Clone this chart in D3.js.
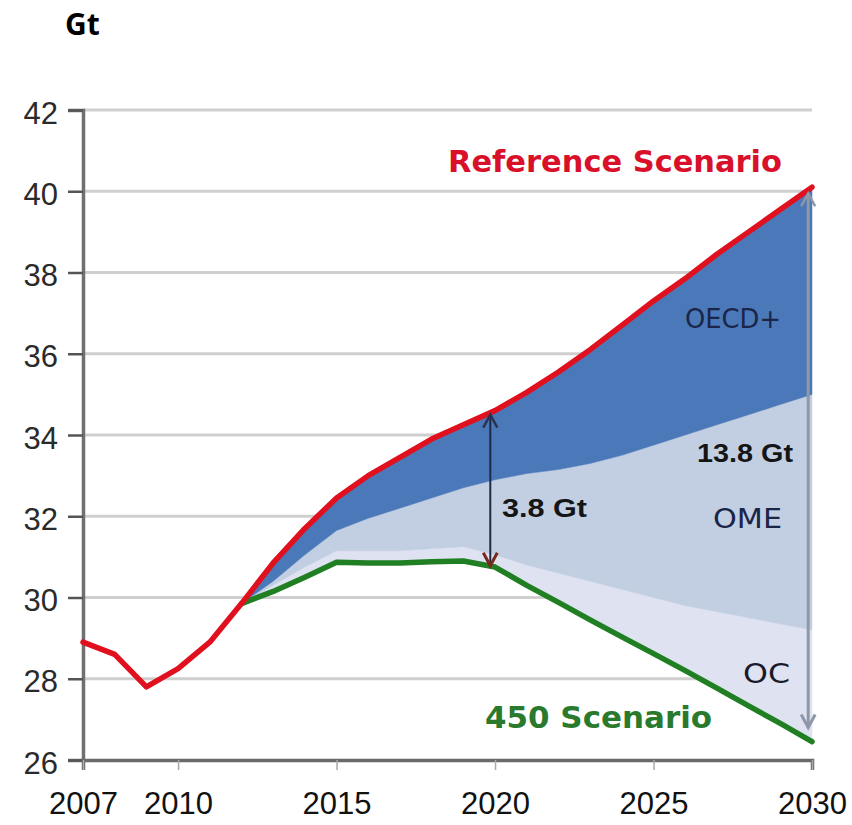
<!DOCTYPE html>
<html>
<head>
<meta charset="utf-8">
<script src="https://cdn.jsdelivr.net/npm/d3@7"></script>
<style>
  html, body { margin: 0; padding: 0; background: #ffffff; }
  svg { display: block; }
</style>
</head>
<body>
<svg id="chart" width="852" height="825"></svg>
<script>
// ---------- data ----------
const yTicks = [26, 28, 30, 32, 34, 36, 38, 40, 42];
const xTicks = [2007, 2010, 2015, 2020, 2025, 2030];

const yearsHist = [2007, 2008, 2009, 2010, 2011, 2012];
const refHist   = [28.9, 28.6, 27.8, 28.25, 28.9, 29.85];

const yearsProj = [2012, 2013, 2014, 2015, 2016, 2017, 2018, 2019, 2020, 2021,
                   2022, 2023, 2024, 2025, 2026, 2027, 2028, 2029, 2030];
const refProj   = [29.85, 30.85, 31.7, 32.45, 33.0, 33.45, 33.9, 34.25, 34.6, 35.05,
                   35.55, 36.1, 36.7, 37.3, 37.85, 38.45, 39.0, 39.55, 40.1];
const scen450   = [29.85, 30.15, 30.5, 30.87, 30.85, 30.85, 30.88, 30.9, 30.75, 30.3,
                   29.88, 29.45, 29.03, 28.62, 28.2, 27.77, 27.33, 26.9, 26.45];
const ocTop     = [29.85, 30.3, 30.75, 31.15, 31.15, 31.15, 31.2, 31.25, 31.05, 30.8,
                   30.6, 30.4, 30.2, 30.0, 29.8, 29.65, 29.5, 29.35, 29.2];
const omeTop    = [29.85, 30.4, 31.05, 31.65, 31.95, 32.2, 32.45, 32.7, 32.9, 33.05,
                   33.15, 33.3, 33.5, 33.75, 34.0, 34.25, 34.5, 34.75, 35.0];

const bandNames = ["OC", "OME", "OECD+"];
const bandColors = ["#dfe3f1", "#c2cfe3", "#4b78b8"];

// ---------- scales ----------
const svg = d3.select("#chart");
const x = d3.scaleLinear().domain([2007, 2030]).range([83, 812]);
const y = d3.scaleLinear().domain([26, 42]).range([760, 110]);

const FONT = "'Liberation Sans', Arial, sans-serif";
const FONT2 = "'DejaVu Sans', Verdana, sans-serif";

// unit label
svg.append("text").attr("x", 65).attr("y", 35)
  .attr("font-family", "'Open Sans', " + FONT).attr("font-weight", "bold").attr("font-size", 30)
  .attr("fill", "#000").text("Gt");

// ---------- gridlines ----------
svg.append("g").selectAll("line").data(yTicks.filter(d => d > 26)).join("line")
  .attr("x1", x(2007)).attr("x2", x(2030))
  .attr("y1", d => y(d)).attr("y2", d => y(d))
  .attr("stroke", "#cfcfcf").attr("stroke-width", 3);

// ---------- bands ----------
const proj = yearsProj.map((yr, i) => ({
  yr, ref: refProj[i], s450: scen450[i], oc: ocTop[i], ome: omeTop[i]
}));
const bandBounds = [["s450", "oc"], ["oc", "ome"], ["ome", "ref"]];
bandBounds.forEach((b, i) => {
  const area = d3.area()
    .x(d => x(d.yr))
    .y0(d => y(d[b[0]]))
    .y1(d => y(d[b[1]]));
  svg.append("path").datum(proj)
    .attr("d", area)
    .attr("fill", bandColors[i])
    .attr("stroke", bandColors[i]).attr("stroke-width", 0.5)
    .attr("class", "band-" + bandNames[i]);
});

// ---------- axes ----------
const yAxis = d3.axisLeft(y).tickValues(yTicks).tickSize(15).tickPadding(10);
const gy = svg.append("g").attr("transform", `translate(${x(2007)},0)`).call(yAxis);
gy.select(".domain").attr("stroke", "#707070").attr("stroke-width", 3.5);
gy.selectAll(".tick line").attr("stroke", "#555").attr("stroke-width", 2.5);
gy.selectAll(".tick text").attr("font-family", FONT).attr("font-size", 31)
  .attr("fill", "#2a2a2a").attr("dy", "0.42em");

const xAxis = d3.axisBottom(x).tickValues(xTicks).tickFormat(d3.format("d"))
  .tickSize(10).tickPadding(30);
const gx = svg.append("g").attr("transform", `translate(0,${y(26)})`).call(xAxis);
gx.select(".domain").attr("stroke", "#6a6a6a").attr("stroke-width", 3.5);
gx.selectAll(".tick line").attr("stroke", "#aaa").attr("stroke-width", 1.5);
gx.selectAll(".tick text").attr("font-family", FONT).attr("font-size", 31)
  .attr("fill", "#111").attr("dy", "0.45em");

// ---------- lines ----------
const refAll = yearsHist.map((yr, i) => ({ yr, v: refHist[i] }))
  .concat(yearsProj.slice(1).map((yr, i) => ({ yr, v: refProj[i + 1] })));
const line = d3.line().x(d => x(d.yr)).y(d => y(d.v));

svg.append("path").datum(proj.map(d => ({ yr: d.yr, v: d.s450 })))
  .attr("d", line).attr("fill", "none")
  .attr("stroke", "#1f7f22").attr("stroke-width", 5.5)
  .attr("stroke-linejoin", "round").attr("stroke-linecap", "round");
svg.append("path").datum(refAll)
  .attr("d", line).attr("fill", "none")
  .attr("stroke", "#e0101f").attr("stroke-width", 5.5)
  .attr("stroke-linejoin", "round").attr("stroke-linecap", "round");

// ---------- arrows ----------
function vArrow(xv, yTop, yBot, color, headTop, headBot, w) {
  const xx = x(xv), y1 = y(yTop), y2 = y(yBot);
  svg.append("line").attr("x1", xx).attr("x2", xx).attr("y1", y1).attr("y2", y2)
    .attr("stroke", color).attr("stroke-width", w);
  svg.append("path")
    .attr("d", `M${xx - 7},${y1 + 13} L${xx},${y1} L${xx + 7},${y1 + 13}`)
    .attr("fill", "none").attr("stroke", headTop).attr("stroke-width", 2.5);
  svg.append("path")
    .attr("d", `M${xx - 7},${y2 - 13} L${xx},${y2} L${xx + 7},${y2 - 13}`)
    .attr("fill", "none").attr("stroke", headBot).attr("stroke-width", 3);
}
vArrow(2019.85, 34.5, 30.78, "#1e2a48", "#2a3350", "#7a2a1c", 2);
vArrow(2029.88, 39.95, 26.8, "#8e98a8", "#8e98a8", "#8e98a8", 3);

// ---------- annotations ----------
function label(txt, xp, yp, size, weight, color, len, fam) {
  svg.append("text").attr("x", xp).attr("y", yp)
    .attr("font-family", fam || FONT).attr("font-size", size)
    .attr("font-weight", weight).attr("fill", color)
    .attr("textLength", len).attr("lengthAdjust", "spacingAndGlyphs")
    .text(txt);
}
label("Reference Scenario", 448, 172, 31, "bold", "#d8102a", 334, FONT2);
label("450 Scenario", 485, 728, 30, "bold", "#2a7a2e", 227, FONT2);
label("OECD+", 685, 328, 27, "normal", "#1a2548", 96, FONT2);
label("13.8 Gt", 697, 462, 26, "bold", "#151515", 96);
label("OME", 713, 528, 27, "normal", "#1a2548", 69, FONT2);
label("OC", 743, 683, 27, "normal", "#1a1a2a", 47, FONT2);
label("3.8 Gt", 502, 517, 26, "bold", "#151515", 85);
</script>
</body>
</html>
